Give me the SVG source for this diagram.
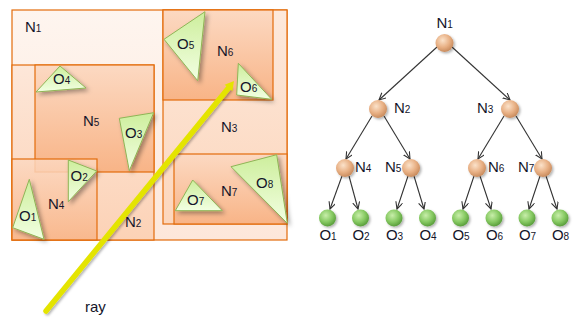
<svg xmlns="http://www.w3.org/2000/svg" width="584" height="328" viewBox="0 0 584 328">
<style>
.box{stroke:#e36c0a;stroke-width:1.2}
.tri{stroke:#8fb556;stroke-width:1;fill:url(#triG);filter:url(#sh)}
.t{font-family:"Liberation Sans",Arial,sans-serif;font-size:15px;fill:#15152a}
.s{font-size:10px}
.edge{stroke:#333;stroke-width:1.1;fill:none;marker-end:url(#ah)}
.inode{fill:url(#nodeG);filter:url(#sh2)}
.leaf{fill:url(#leafG);filter:url(#sh2)}
</style>
<defs>
<linearGradient id="g1" x1="0" y1="0" x2="0" y2="1"><stop offset="0" stop-color="#fef5ef"/><stop offset="1" stop-color="#fde7da"/></linearGradient>
<linearGradient id="g2" x1="0" y1="0" x2="0" y2="1"><stop offset="0" stop-color="#fde7d9"/><stop offset="1" stop-color="#fcd2b6"/></linearGradient>
<linearGradient id="g3" x1="0" y1="0" x2="0" y2="1"><stop offset="0" stop-color="#fde9dc"/><stop offset="1" stop-color="#fcd6bc"/></linearGradient>
<linearGradient id="gd" x1="0" y1="0" x2="0" y2="1"><stop offset="0" stop-color="#fcd9c2"/><stop offset="1" stop-color="#f8b487"/></linearGradient>
<linearGradient id="triG" x1="0" y1="0" x2="0" y2="1"><stop offset="0" stop-color="#cdee9c"/><stop offset="1" stop-color="#f2ffe2"/></linearGradient>
<radialGradient id="nodeG" cx="0.4" cy="0.35" r="0.65"><stop offset="0" stop-color="#fbe2ca"/><stop offset="0.6" stop-color="#e8b084"/><stop offset="1" stop-color="#c98c5e"/></radialGradient>
<radialGradient id="leafG" cx="0.4" cy="0.35" r="0.65"><stop offset="0" stop-color="#c8eeaa"/><stop offset="0.6" stop-color="#86c962"/><stop offset="1" stop-color="#5a9e3c"/></radialGradient>
<filter id="sh" x="-30%" y="-30%" width="160%" height="160%"><feDropShadow dx="2.5" dy="2.5" stdDeviation="2" flood-color="#000" flood-opacity="0.35"/></filter>
<filter id="sh2" x="-40%" y="-40%" width="180%" height="180%"><feDropShadow dx="1.5" dy="1.5" stdDeviation="1.2" flood-color="#000" flood-opacity="0.3"/></filter>
<marker id="ah" markerWidth="9" markerHeight="9" refX="7" refY="3.5" orient="auto" markerUnits="userSpaceOnUse"><path d="M0,0 L7,3.5 L0,7" fill="none" stroke="#333" stroke-width="1.1"/></marker>
</defs>
<g id="space">
<rect id="N1-box" class="box" x="12" y="10" width="275" height="230" fill="url(#g1)"/>
<rect id="N2-box" class="box" x="12" y="65" width="142" height="175" fill="url(#g2)"/>
<rect id="N3-box" class="box" x="163" y="10" width="124" height="214" fill="url(#g3)"/>
<rect id="N5-box" class="box" x="35" y="65" width="119" height="107" fill="url(#gd)"/>
<rect id="N4-box" x="12" y="159" width="85" height="81" fill="url(#gd)" fill-opacity="0.85"/>
<rect class="box" x="12" y="159" width="85" height="81" fill="none"/>
<rect id="N6-box" class="box" x="163" y="10" width="110" height="90" fill="url(#gd)"/>
<rect id="N7-box" class="box" x="174" y="154" width="113" height="70" fill="url(#gd)"/>
</g>
<g id="ray">
<line x1="46" y1="311" x2="228.5" y2="88" stroke="#e4e400" stroke-width="5.5" stroke-linecap="round" filter="url(#sh2)"/>
<polygon points="234,81 232.4,91.2 224.6,84.8" fill="#e4e400"/>
</g>
<g id="objects">
<polygon id="O4-tri" class="tri" points="36,92 60,66 86,88"/>
<polygon id="O3-tri" class="tri" points="119.3,118.3 153.7,112.7 129.3,170.7"/>
<polygon id="O2-tri" class="tri" points="68.3,160 96.7,171 68.3,201.7"/>
<polygon id="O1-tri" class="tri" points="29.3,179.3 12.7,227.7 44,239.3"/>
<polygon id="O5-tri" class="tri" points="164,39.3 205,11.7 197.7,80.7"/>
<polygon id="O6-tri" class="tri" points="238.3,63.3 236.7,95 271.7,99.3"/>
<polygon id="O7-tri" class="tri" points="192.7,180 175.3,210.7 222.3,210.7"/>
<polygon id="O8-tri" class="tri" points="231,166.7 276.7,154.7 287.3,223.3"/>
</g>
<g id="space-labels">
<text class="t" x="25" y="32">N<tspan class="s">1</tspan></text>
<text class="t" x="83" y="126">N<tspan class="s">5</tspan></text>
<text class="t" x="48" y="209">N<tspan class="s">4</tspan></text>
<text class="t" x="125" y="227">N<tspan class="s">2</tspan></text>
<text class="t" x="217" y="56">N<tspan class="s">6</tspan></text>
<text class="t" x="221" y="132">N<tspan class="s">3</tspan></text>
<text class="t" x="221" y="196">N<tspan class="s">7</tspan></text>
<text class="t" x="53" y="84">O<tspan class="s">4</tspan></text>
<text class="t" x="125" y="138">O<tspan class="s">3</tspan></text>
<text class="t" x="70.5" y="181">O<tspan class="s">2</tspan></text>
<text class="t" x="19" y="220.5">O<tspan class="s">1</tspan></text>
<text class="t" x="177" y="49">O<tspan class="s">5</tspan></text>
<text class="t" x="240" y="92">O<tspan class="s">6</tspan></text>
<text class="t" x="187" y="205">O<tspan class="s">7</tspan></text>
<text class="t" x="256" y="188">O<tspan class="s">8</tspan></text>
<text class="t" x="85" y="312">ray</text>
</g>
<g id="connectors">
<line class="edge" x1="437" y1="47" x2="379" y2="100"/>
<line class="edge" x1="452" y1="47" x2="510" y2="100"/>
<line class="edge" x1="372" y1="116" x2="346" y2="159"/>
<line class="edge" x1="384" y1="116" x2="410" y2="159"/>
<line class="edge" x1="504" y1="116" x2="478" y2="159"/>
<line class="edge" x1="516" y1="116" x2="542" y2="159"/>
<line class="edge" x1="342" y1="176" x2="330" y2="209"/>
<line class="edge" x1="349" y1="176" x2="358" y2="209"/>
<line class="edge" x1="408" y1="176" x2="397" y2="209"/>
<line class="edge" x1="414" y1="176" x2="424" y2="209"/>
<line class="edge" x1="474" y1="176" x2="463" y2="209"/>
<line class="edge" x1="480" y1="176" x2="491" y2="209"/>
<line class="edge" x1="540" y1="176" x2="529" y2="209"/>
<line class="edge" x1="546" y1="176" x2="557" y2="209"/>
</g>
<g id="tree-nodes">
<g id="N1"><circle class="inode" cx="444.5" cy="43" r="9"/><text class="t" x="436.5" y="28">N<tspan class="s">1</tspan></text></g>
<g id="N2"><circle class="inode" cx="378" cy="109" r="9"/><text class="t" x="394" y="113">N<tspan class="s">2</tspan></text></g>
<g id="N3"><circle class="inode" cx="510" cy="109" r="9"/><text class="t" x="477" y="113">N<tspan class="s">3</tspan></text></g>
<g id="N4"><circle class="inode" cx="345" cy="168" r="9"/><text class="t" x="355" y="172">N<tspan class="s">4</tspan></text></g>
<g id="N5"><circle class="inode" cx="411" cy="168" r="9"/><text class="t" x="385" y="172">N<tspan class="s">5</tspan></text></g>
<g id="N6"><circle class="inode" cx="477" cy="168" r="9"/><text class="t" x="488" y="172">N<tspan class="s">6</tspan></text></g>
<g id="N7"><circle class="inode" cx="543" cy="168" r="9"/><text class="t" x="518" y="172">N<tspan class="s">7</tspan></text></g>
<g id="O1"><circle class="leaf" cx="327.5" cy="218" r="8.5"/><text class="t" x="328" y="240" text-anchor="middle">O<tspan class="s">1</tspan></text></g>
<g id="O2"><circle class="leaf" cx="360.5" cy="218" r="8.5"/><text class="t" x="361" y="240" text-anchor="middle">O<tspan class="s">2</tspan></text></g>
<g id="O3"><circle class="leaf" cx="394" cy="218" r="8.5"/><text class="t" x="394.5" y="240" text-anchor="middle">O<tspan class="s">3</tspan></text></g>
<g id="O4"><circle class="leaf" cx="427.5" cy="218" r="8.5"/><text class="t" x="428" y="240" text-anchor="middle">O<tspan class="s">4</tspan></text></g>
<g id="O5"><circle class="leaf" cx="460.5" cy="218" r="8.5"/><text class="t" x="461" y="240" text-anchor="middle">O<tspan class="s">5</tspan></text></g>
<g id="O6"><circle class="leaf" cx="494" cy="218" r="8.5"/><text class="t" x="494.5" y="240" text-anchor="middle">O<tspan class="s">6</tspan></text></g>
<g id="O7"><circle class="leaf" cx="527" cy="218" r="8.5"/><text class="t" x="527.5" y="240" text-anchor="middle">O<tspan class="s">7</tspan></text></g>
<g id="O8"><circle class="leaf" cx="560" cy="218" r="8.5"/><text class="t" x="560.5" y="240" text-anchor="middle">O<tspan class="s">8</tspan></text></g>
</g>
</svg>
